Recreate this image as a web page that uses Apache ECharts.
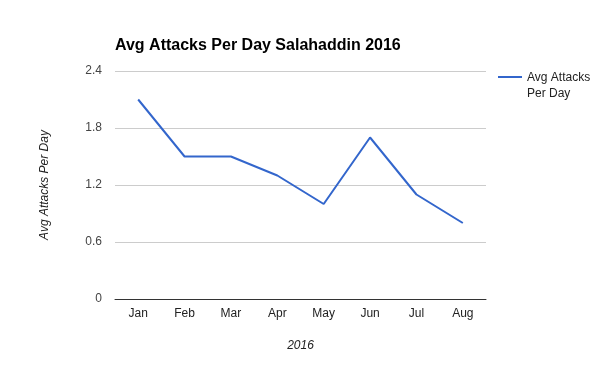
<!DOCTYPE html>
<html>
<head>
<meta charset="utf-8">
<script src="https://cdn.jsdelivr.net/npm/echarts@6/dist/echarts.min.js"></script>
<style>html,body{margin:0;padding:0;background:#fff}#c{width:600px;height:371px}</style>
</head>
<body>
<div id="c"></div>
<script>
var months = ['Jan','Feb','Mar','Apr','May','Jun','Jul','Aug'];
var avgAttacks = [2.1, 1.5, 1.5, 1.3, 1.0, 1.7, 1.1, 0.8];
var yTicks = [0, 0.6, 1.2, 1.8, 2.4];

var chart = echarts.init(document.getElementById('c'), null, {renderer:'canvas'});
chart.setOption({
  animation: false,
  backgroundColor: '#fff',
  textStyle: {fontFamily: 'Liberation Sans, Arial, sans-serif'},
  title: {
    text: 'Avg Attacks Per Day Salahaddin 2016',
    left: 115, top: 38, padding: 0,
    textStyle: {fontSize: 16, fontWeight: 'bold', color: '#000', fontFamily: 'Liberation Sans, Arial, sans-serif'}
  },
  legend: {
    data: [{name: 'Avg Attacks\nPer Day'}],
    left: 498, top: 70, padding: 0,
    itemWidth: 24, itemHeight: 32, itemGap: 5,
    icon: 'path://M0,6 L24,6 L24,8 L0,8 Z M0,0 L0.01,0 M0,32 L0.01,32',
    textStyle: {fontSize: 12, color: '#222', lineHeight: 16, fontFamily: 'Liberation Sans, Arial, sans-serif'}
  },
  grid: {left: 115, right: 114, top: 71, bottom: 72, containLabel: false},
  xAxis: {
    type: 'category',
    data: months,
    boundaryGap: true,
    name: '2016',
    nameLocation: 'middle',
    nameGap: 41,
    nameTextStyle: {fontStyle: 'italic', fontSize: 12, color: '#222'},
    axisLine: {lineStyle: {color: '#333', width: 1}},
    axisTick: {show: false},
    axisLabel: {fontSize: 12, color: '#222', margin: 9}
  },
  yAxis: {
    type: 'value',
    min: yTicks[0], max: yTicks[yTicks.length-1], interval: 0.6,
    name: 'Avg Attacks Per Day',
    nameLocation: 'middle',
    nameGap: 64,
    nameTextStyle: {fontStyle: 'italic', fontSize: 12, color: '#222'},
    axisLine: {show: false},
    axisTick: {show: false},
    splitLine: {lineStyle: {color: '#ccc', width: 1}},
    axisLabel: {fontSize: 12, color: '#444', margin: 13,
      formatter: function(v){ return v === 0 ? '0' : v.toFixed(1); }}
  },
  series: [{
    name: 'Avg Attacks\nPer Day',
    type: 'line',
    data: avgAttacks,
    symbol: 'none',
    lineStyle: {color: '#3366cc', width: 2},
    itemStyle: {color: '#3366cc'}
  }]
});
</script>
</body>
</html>
